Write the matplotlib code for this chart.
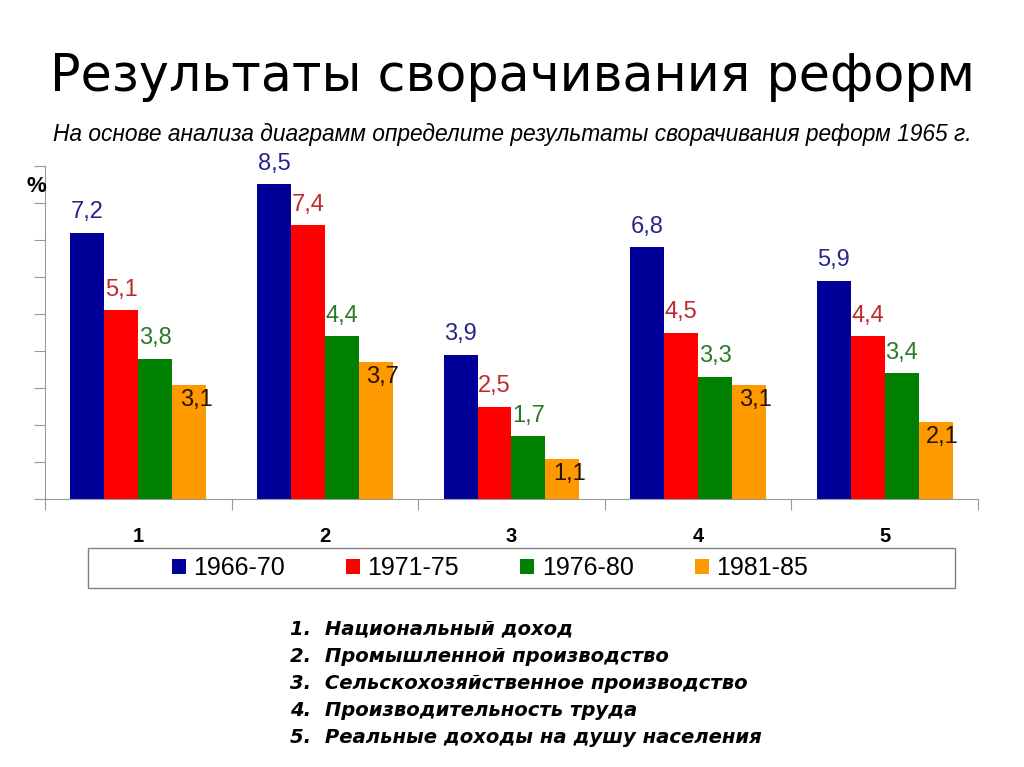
import matplotlib.pyplot as plt
from matplotlib.patches import Rectangle
import numpy as np

# Data
categories = ['1', '2', '3', '4', '5']
periods = ['1966-70', '1971-75', '1976-80', '1981-85']
v_6670 = [7.2, 8.5, 3.9, 6.8, 5.9]
v_7175 = [5.1, 7.4, 2.5, 4.5, 4.4]
v_7680 = [3.8, 4.4, 1.7, 3.3, 3.4]
v_8185 = [3.1, 3.7, 1.1, 3.1, 2.1]
indicators = ['1.  Национальный доход',
              '2.  Промышленной производство',
              '3.  Сельскохозяйственное производство',
              '4.  Производительность труда',
              '5.  Реальные доходы на душу населения']

series = [v_6670, v_7175, v_7680, v_8185]
bar_colors = ['#000099', '#ff0000', '#008000', '#ff9900']
label_colors = ['#26268a', '#c0282e', '#2a7a2a', '#2a1200']

fig = plt.figure(figsize=(10.24, 7.67), dpi=100)
ax = fig.add_axes([0.044, 0.349, 0.911, 0.4346])

x = np.arange(len(categories))
w = 0.182
for i, (vals, col, lcol) in enumerate(zip(series, bar_colors, label_colors)):
    pos = x + (i - 1.5) * w
    ax.bar(pos, vals, w, color=col, label=periods[i], zorder=2)
    for px, v in zip(pos, vals):
        txt = f"{v:.1f}".replace('.', ',')
        if i == 3:
            ax.annotate(txt, (px, v), xytext=(5, -3), textcoords='offset points',
                        ha='center', va='top', fontsize=17, color=lcol,
                        family='Liberation Sans')
        else:
            ax.annotate(txt, (px, v), xytext=(0, 7), textcoords='offset points',
                        ha='center', va='bottom', fontsize=17, color=lcol,
                        family='Liberation Sans')

ax.set_xlim(-0.5, 4.5)
ax.set_ylim(0, 9)
ax.set_yticks(np.arange(0, 10))
ax.set_yticklabels([])
ax.set_xticks(np.arange(-0.5, 5, 1))
ax.set_xticklabels([])
ax.set_xticks(x, minor=True)
ax.set_xticklabels(categories, minor=True, fontsize=14.5, fontweight='bold',
                   family='Liberation Sans')
ax.tick_params(axis='x', which='minor', length=0, pad=20)
ax.tick_params(axis='x', which='major', length=8, color='#999999', direction='out')
ax.tick_params(axis='y', length=8, color='#999999', direction='out')
for s in ['top', 'right']:
    ax.spines[s].set_visible(False)
ax.spines['left'].set_color('#999999')
ax.spines['bottom'].set_color('#999999')

fig.text(36 / 1024, 1 - 186 / 767, '%', fontsize=16, fontweight='bold',
         ha='center', va='center', family='Liberation Sans')

# legend box
fig.patches.append(Rectangle((88 / 1024, 1 - 588 / 767), 867 / 1024, 40 / 767,
                             transform=fig.transFigure, fill=False,
                             edgecolor='#808080', linewidth=1.0))
leg = fig.legend(loc='center', bbox_to_anchor=(490 / 1024, 1 - 568 / 767),
                 ncol=4, frameon=False,
                 handlelength=0.55, handleheight=0.55, handletextpad=0.3,
                 columnspacing=2.45,
                 prop={'family': 'Liberation Sans', 'size': 18})

fig.text(0.5, 0.900, 'Результаты сворачивания реформ', ha='center', va='center',
         fontsize=36.5, family='DejaVu Sans')
fig.text(0.5, 0.824, 'На основе анализа диаграмм определите результаты сворачивания реформ 1965 г.',
         ha='center', va='center', fontsize=16.4, style='italic', family='Liberation Sans')

for k, line in enumerate(indicators):
    fig.text(0.283, 0.18 - k * 0.0355, line, ha='left', va='center', fontsize=14.1,
             fontweight='bold', style='italic', family='DejaVu Sans')

fig.savefig('out.png', dpi=100)
